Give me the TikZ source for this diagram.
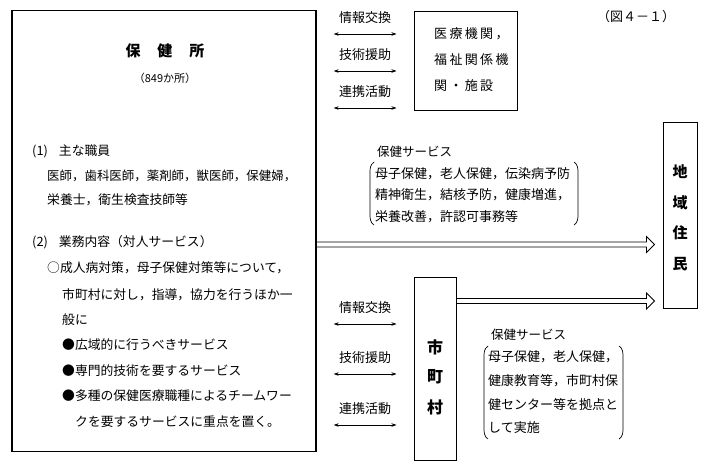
\documentclass[tikz,border=0pt]{standalone}
\usepackage{fontspec}
\setmainfont{Noto Sans CJK JP}
\usetikzlibrary{arrows.meta,calc}
\newcommand\fsz[1]{\fontsize{#1}{#1}\selectfont}
\newcommand\parenL[3]{\draw[paren] (#1+4,#2) .. controls (#1,#2+3) and (#1,#2+6) .. (#1,#2+12) -- (#1,#3-12) .. controls (#1,#3-6) and (#1,#3-3) .. (#1+4,#3);}
\newcommand\parenR[3]{\draw[paren] (#1-4,#2) .. controls (#1,#2+3) and (#1,#2+6) .. (#1,#2+12) -- (#1,#3-12) .. controls (#1,#3-6) and (#1,#3-3) .. (#1-4,#3);}
\begin{document}
\begin{tikzpicture}[x=1pt,y=-1pt,
  box/.style={draw, line width=1pt, inner sep=0pt},
  txt/.style={anchor=west, inner sep=0pt, font=\fsz{12.8}},
  link/.style={{Stealth[length=5pt,width=3.5pt]}-{Stealth[length=5pt,width=3.5pt]}, line width=0.7pt, shorten <=17pt, shorten >=17pt},
  linklabel/.style={inner sep=0pt, font=\fsz{13}},
  hollow/.style={line width=0.8pt, line join=miter},
  paren/.style={line width=0.7pt},
  bigchar/.style={inner sep=0pt, font=\fsz{16}\bfseries}]
\useasboundingbox (0,0) rectangle (708,469);
% boxes
\node[box, line width=1.3pt, minimum width=304pt, minimum height=441pt] (hoken) at (164,231) {};
\node[box, minimum width=103pt, minimum height=99pt] (med) at (465.5,60.5) {};
\node[box, minimum width=42pt, minimum height=183pt] (shicho) at (435,368.5) {};
\node[box, minimum width=34pt, minimum height=186pt] (jumin) at (680,215.5) {};
% figure number
\node[inner sep=0pt, font=\fsz{13}] (fig) at (636,17) {（図４－１）};
% hokenjo contents
\node[inner sep=0pt, font=\fsz{15}\bfseries] (title) at (165,51) {保\hspace{17pt}健\hspace{17pt}所};
\node[inner sep=0pt, font=\fsz{11}] (count) at (165,78) {（849か所）};
\node[txt] (t1) at (32,151) {(1)\hspace{11pt}主な職員};
\node[txt, font=\fsz{12.45}] (t2) at (47,176) {医師，歯科医師，薬剤師，獣医師，保健婦，};
\node[txt] (t3) at (47,200) {栄養士，衛生検査技師等};
\node[txt] (t4) at (32,242) {(2)\hspace{11pt}業務内容（対人サービス）};
\node[txt] (t5) at (47,268) {○成人病対策，母子保健対策等について，};
\node[txt] (t6) at (62,295) {市町村に対し，指導，協力を行うほか一};
\node[txt] (t7) at (62,320) {般に};
\node[txt] (t8) at (62,345) {●広域的に行うべきサービス};
\node[txt] (t9) at (62,371) {●専門的技術を要するサービス};
\node[txt] (t10) at (62,396) {●多種の保健医療職種によるチームワー};
\node[txt] (t11) at (75,422) {クを要するサービスに重点を置く。};
% medical box text
\node[txt, font=\fsz{13}\addfontfeature{LetterSpace=18}] (m1) at (434,34) {医療機関，};
\node[txt, font=\fsz{13}\addfontfeature{LetterSpace=18}] (m2) at (434,60) {福祉関係機};
\node[txt, font=\fsz{13}\addfontfeature{LetterSpace=18}] (m3) at (434,86) {関・施設};
% shichoson / jumin
\node[bigchar] (s1) at (shicho.center |- 0,347) {市};
\node[bigchar] (s2) at (shicho.center |- 0,377) {町};
\node[bigchar] (s3) at (shicho.center |- 0,407) {村};
\node[bigchar, font=\fsz{15}\bfseries] (j1) at (jumin.center |- 0,172) {地};
\node[bigchar, font=\fsz{15}\bfseries] (j2) at (jumin.center |- 0,203) {域};
\node[bigchar, font=\fsz{15}\bfseries] (j3) at (jumin.center |- 0,233) {住};
\node[bigchar, font=\fsz{15}\bfseries] (j4) at (jumin.center |- 0,264) {民};
% links upper
\draw[link] (hoken.east |- 0,34) -- (med.west |- 0,34) node[linklabel, midway, above=10pt] (la1) {情報交換};
\draw[link] (hoken.east |- 0,71) -- (med.west |- 0,71) node[linklabel, midway, above=10pt] (la2) {技術援助};
\draw[link] (hoken.east |- 0,108) -- (med.west |- 0,108) node[linklabel, midway, above=10pt] (la3) {連携活動};
% links lower
\draw[link] (hoken.east |- 0,324) -- (shicho.west |- 0,324) node[linklabel, midway, above=10pt] (lb1) {情報交換};
\draw[link] (hoken.east |- 0,374) -- (shicho.west |- 0,374) node[linklabel, midway, above=10pt] (lb2) {技術援助};
\draw[link] (hoken.east |- 0,425) -- (shicho.west |- 0,425) node[linklabel, midway, above=10pt] (lb3) {連携活動};
% hollow arrows
\coordinate (a1s) at (hoken.east |- 0,244.5);
\coordinate (a1e) at (jumin.west |- 0,244.5);
\draw[hollow] ($(a1s)+(0,-2.5)$) -- ($(a1e)+(-16,-2.5)$) -- ($(a1e)+(-16,-8)$) -- ($(a1e)+(-8,0)$) -- ($(a1e)+(-16,8)$) -- ($(a1e)+(-16,2.5)$) -- ($(a1s)+(0,2.5)$);
\coordinate (a2s) at (shicho.east |- 0,301);
\coordinate (a2e) at (jumin.west |- 0,301);
\draw[hollow] ($(a2s)+(0,-2.5)$) -- ($(a2e)+(-16,-2.5)$) -- ($(a2e)+(-16,-8)$) -- ($(a2e)+(-8,0)$) -- ($(a2e)+(-16,8)$) -- ($(a2e)+(-16,2.5)$) -- ($(a2s)+(0,2.5)$);
% upper service
\node[txt, font=\fsz{12.5}] (sv1) at (377,152) {保健サービス};
\node[anchor=north west, inner sep=0pt, align=left, font=\fontsize{13}{21.5}\selectfont] (svc1) at (375,167) {母子保健，老人保健，伝染病予防\\精神衛生，結核予防，健康増進，\\栄養改善，許認可事務等};
\parenL{370}{162}{225}
\parenR{578}{162}{225}
% lower service
\node[txt, font=\fsz{12.5}] (sv2) at (491,335) {保健サービス};
\node[anchor=north west, inner sep=0pt, align=left, font=\fontsize{13}{23.7}\selectfont] (svc2) at (488,350.5) {母子保健，老人保健，\\健康教育等，市町村保\\健センター等を拠点と\\して実施};
\parenL{484}{346}{439}
\parenR{623}{346}{439}
\end{tikzpicture}
\end{document}
